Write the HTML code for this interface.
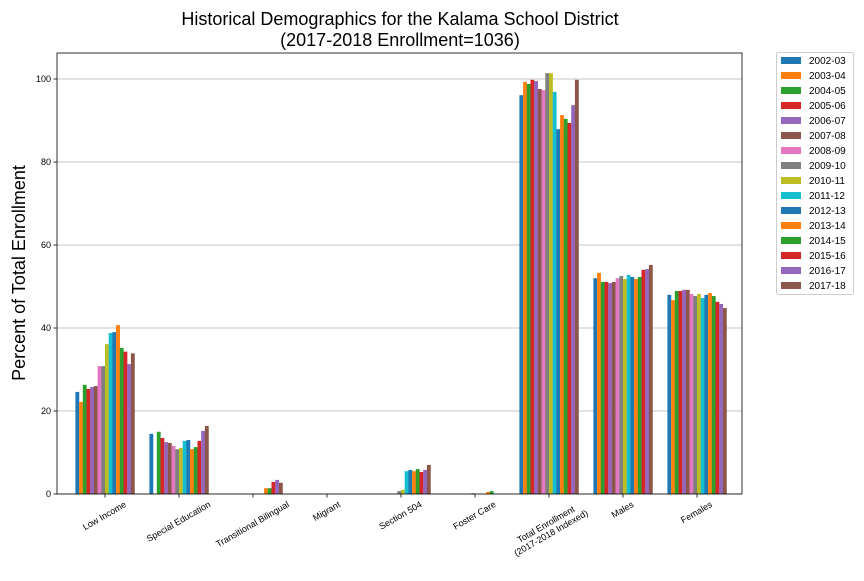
<!DOCTYPE html>
<html><head><meta charset="utf-8"><style>
body{margin:0;background:#fff;width:864px;height:576px;overflow:hidden;font-family:"Liberation Sans","DejaVu Sans",sans-serif}
</style></head><body>
<svg id="c" width="864" height="576" xmlns="http://www.w3.org/2000/svg" font-family="Liberation Sans, DejaVu Sans, sans-serif"></svg>
<script>
const categories=["Low Income","Special Education","Transitional Bilingual","Migrant","Section 504","Foster Care","Total Enrollment|(2017-2018 Indexed)","Males","Females"];
const years=["2002-03","2003-04","2004-05","2005-06","2006-07","2007-08","2008-09","2009-10","2010-11","2011-12","2012-13","2013-14","2014-15","2015-16","2016-17","2017-18"];
const colors=["#1f77b4","#ff7f0e","#2ca02c","#d62728","#9467bd","#8c564b","#e377c2","#7f7f7f","#bcbd22","#17becf","#1f77b4","#ff7f0e","#2ca02c","#d62728","#9467bd","#8c564b"];
const lowIncome=[24.6,22.2,26.3,25.3,25.8,26.0,30.8,30.8,36.1,38.8,39.0,40.7,35.2,34.3,31.3,33.9];
const specialEd=[14.5,0,15.0,13.5,12.5,12.3,11.6,10.8,11.1,12.8,13.0,10.8,11.3,12.8,15.2,16.4];
const transBilingual=[0,0,0,0,0,0,0,0,0,0,0,1.4,1.4,2.9,3.4,2.7];
const migrant=[0,0,0,0,0,0,0,0,0,0,0,0,0,0,0,0];
const section504=[0,0,0,0,0,0,0,0.7,1.0,5.5,5.8,5.5,6.0,5.3,5.8,7.0];
const fosterCare=[0,0,0,0,0,0,0,0.2,0,0,0,0.5,0.7,0,0,0];
const totalEnroll=[96.1,99.3,98.8,99.8,99.5,97.6,97.3,101.4,101.4,96.9,87.9,91.3,90.4,89.4,93.7,99.8];
const males=[52.0,53.3,51.1,51.1,50.8,51.1,52.0,52.5,51.8,52.8,52.3,51.8,52.3,54.0,54.2,55.2];
const females=[48.0,46.7,48.9,48.9,49.2,49.2,48.2,47.7,48.2,47.2,48.0,48.4,47.7,46.3,45.8,44.8];
const yTicks=[0,20,40,60,80,100];

const series=[lowIncome,specialEd,transBilingual,migrant,section504,fosterCare,totalEnroll,males,females];
const svg=document.getElementById('c');const NS="http://www.w3.org/2000/svg";
function mk(t,a,p){const e=document.createElementNS(NS,t);for(const k in a)e.setAttribute(k,a[k]);(p||svg).appendChild(e);return e;}
const L=57,R=742,T=53,B=494;
const y=v=>B-v*4.15;
const x0=105,step=74,gw=59.2,bw=gw/16;
const cx=i=>x0+i*step;
yTicks.forEach(t=>{
 const g=mk('line',{x1:L,x2:R,y1:y(t),y2:y(t),stroke:'#b0b0b0','stroke-width':0.8});
 
 
 const tk=mk('line',{x1:L-3.5,x2:L,y1:y(t),y2:y(t),stroke:'#000','stroke-width':0.8});
 
 
 const tx=mk('text',{x:L-6,y:y(t)+3,'text-anchor':'end','font-size':9});tx.textContent=t;
 
 
});
series.forEach((s,ci)=>{
 s.forEach((v,yi)=>{
  if(v<=0)return;
  const r=mk('rect',{x:cx(ci)-gw/2+yi*bw,y:y(v),width:bw+0.15,height:v*4.15,fill:colors[yi]});
  
  
 });
});
categories.forEach((c,i)=>{
 const tk=mk('line',{x1:cx(i),x2:cx(i),y1:B,y2:B+3.5,stroke:'#000','stroke-width':0.8});
 
 
 const parts=c.split('|');
 const t=mk('text',{'text-anchor':'middle','font-size':9});
 
 
 parts.forEach((p,k)=>{const ts=mk('tspan',{x:0,dy:k?10:0},t);ts.textContent=p;});
 let w=0;try{w=t.getBBox().width;}catch(e){w=c.length*5;}
 const h=parts.length*10;
 const bh=w*0.5+h*0.866;
 const cy=B+6+bh/2;
 t.setAttribute('transform',`translate(${cx(i)},${cy-(h/2-8)*0.866}) rotate(-30)`);
 t.setAttribute('transform',`translate(${cx(i)},${cy}) rotate(-30) translate(0,${-(h/2)+7})`);
});
const fr=mk('rect',{x:L,y:T,width:R-L,height:B-T,fill:'none',stroke:'#000','stroke-width':0.8});


const t1=mk('text',{x:400,y:25,'text-anchor':'middle','font-size':18});t1.textContent='Historical Demographics for the Kalama School District';


const t2=mk('text',{x:400,y:46,'text-anchor':'middle','font-size':18});t2.textContent='(2017-2018 Enrollment=1036)';


const yl=mk('text',{'text-anchor':'middle','font-size':18,transform:'translate(25,273) rotate(-90)'});yl.textContent='Percent of Total Enrollment';


const lb=mk('rect',{x:776.5,y:52.5,width:77,height:242,fill:'#fff',stroke:'#ccc',rx:2});


years.forEach((yr,i)=>{
 const yy=60+i*15;
 const sw=mk('rect',{x:781,y:yy-3,width:20,height:7,fill:colors[i]});
 
 
 const t=mk('text',{x:809,y:yy+4,'font-size':10});t.textContent=yr;
 
 
});
</script>
</body></html>
